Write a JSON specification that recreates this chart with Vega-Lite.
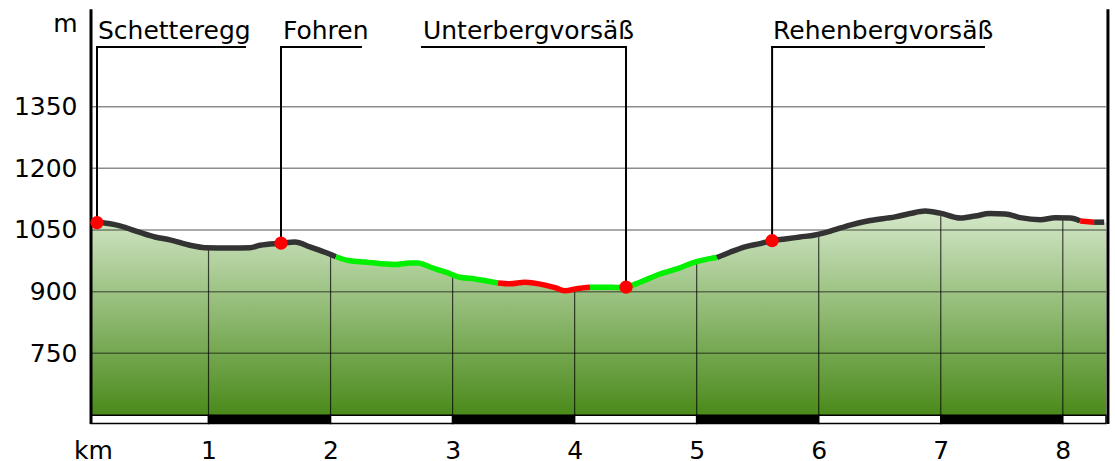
{
  "$schema": "https://vega.github.io/schema/vega-lite/v6.json",
  "width": 1015,
  "height": 414,
  "autosize": "none",
  "padding": {"left": 91, "top": 10, "right": 9, "bottom": 37},
  "background": "white",
  "config": {"view": {"stroke": null}, "font": "DejaVu Sans"},
  "datasets": {
    "prof": [
      {"km": 0.037, "elev": 1068, "seg": 1, "cat": "d", "dup": 0},
      {"km": 0.086, "elev": 1068, "seg": 1, "cat": "d", "dup": 0},
      {"km": 0.193, "elev": 1065, "seg": 1, "cat": "d", "dup": 0},
      {"km": 0.274, "elev": 1060, "seg": 1, "cat": "d", "dup": 0},
      {"km": 0.438, "elev": 1044, "seg": 1, "cat": "d", "dup": 0},
      {"km": 0.561, "elev": 1033, "seg": 1, "cat": "d", "dup": 0},
      {"km": 0.684, "elev": 1026, "seg": 1, "cat": "d", "dup": 0},
      {"km": 0.848, "elev": 1013, "seg": 1, "cat": "d", "dup": 0},
      {"km": 0.971, "elev": 1007, "seg": 1, "cat": "d", "dup": 0},
      {"km": 1.176, "elev": 1006, "seg": 1, "cat": "d", "dup": 0},
      {"km": 1.340, "elev": 1007, "seg": 1, "cat": "d", "dup": 0},
      {"km": 1.422, "elev": 1013, "seg": 1, "cat": "d", "dup": 0},
      {"km": 1.594, "elev": 1018, "seg": 1, "cat": "d", "dup": 0},
      {"km": 1.708, "elev": 1021, "seg": 1, "cat": "d", "dup": 0},
      {"km": 1.831, "elev": 1009, "seg": 1, "cat": "d", "dup": 0},
      {"km": 1.954, "elev": 996, "seg": 1, "cat": "d", "dup": 0},
      {"km": 2.044, "elev": 985, "seg": 1, "cat": "d", "dup": 0},
      {"km": 2.044, "elev": 985, "seg": 2, "cat": "g", "dup": 1},
      {"km": 2.159, "elev": 975, "seg": 2, "cat": "g", "dup": 0},
      {"km": 2.282, "elev": 972, "seg": 2, "cat": "g", "dup": 0},
      {"km": 2.528, "elev": 966, "seg": 2, "cat": "g", "dup": 0},
      {"km": 2.651, "elev": 970, "seg": 2, "cat": "g", "dup": 0},
      {"km": 2.717, "elev": 970, "seg": 2, "cat": "g", "dup": 0},
      {"km": 2.815, "elev": 960, "seg": 2, "cat": "g", "dup": 0},
      {"km": 2.938, "elev": 948, "seg": 2, "cat": "g", "dup": 0},
      {"km": 3.061, "elev": 935, "seg": 2, "cat": "g", "dup": 0},
      {"km": 3.184, "elev": 931, "seg": 2, "cat": "g", "dup": 0},
      {"km": 3.372, "elev": 921, "seg": 2, "cat": "g", "dup": 0},
      {"km": 3.372, "elev": 921, "seg": 3, "cat": "r", "dup": 1},
      {"km": 3.470, "elev": 919, "seg": 3, "cat": "r", "dup": 0},
      {"km": 3.593, "elev": 923, "seg": 3, "cat": "r", "dup": 0},
      {"km": 3.757, "elev": 916, "seg": 3, "cat": "r", "dup": 0},
      {"km": 3.847, "elev": 909, "seg": 3, "cat": "r", "dup": 0},
      {"km": 3.921, "elev": 902, "seg": 3, "cat": "r", "dup": 0},
      {"km": 4.027, "elev": 908, "seg": 3, "cat": "r", "dup": 0},
      {"km": 4.126, "elev": 911, "seg": 3, "cat": "r", "dup": 0},
      {"km": 4.126, "elev": 911, "seg": 4, "cat": "g", "dup": 1},
      {"km": 4.249, "elev": 911, "seg": 4, "cat": "g", "dup": 0},
      {"km": 4.372, "elev": 910, "seg": 4, "cat": "g", "dup": 0},
      {"km": 4.421, "elev": 911, "seg": 4, "cat": "g", "dup": 0},
      {"km": 4.535, "elev": 923, "seg": 4, "cat": "g", "dup": 0},
      {"km": 4.699, "elev": 943, "seg": 4, "cat": "g", "dup": 0},
      {"km": 4.863, "elev": 958, "seg": 4, "cat": "g", "dup": 0},
      {"km": 4.986, "elev": 972, "seg": 4, "cat": "g", "dup": 0},
      {"km": 5.068, "elev": 978, "seg": 4, "cat": "g", "dup": 0},
      {"km": 5.166, "elev": 983, "seg": 4, "cat": "g", "dup": 0},
      {"km": 5.166, "elev": 983, "seg": 5, "cat": "d", "dup": 1},
      {"km": 5.273, "elev": 996, "seg": 5, "cat": "d", "dup": 0},
      {"km": 5.396, "elev": 1009, "seg": 5, "cat": "d", "dup": 0},
      {"km": 5.519, "elev": 1017, "seg": 5, "cat": "d", "dup": 0},
      {"km": 5.618, "elev": 1024, "seg": 5, "cat": "d", "dup": 0},
      {"km": 5.724, "elev": 1028, "seg": 5, "cat": "d", "dup": 0},
      {"km": 5.847, "elev": 1033, "seg": 5, "cat": "d", "dup": 0},
      {"km": 5.970, "elev": 1038, "seg": 5, "cat": "d", "dup": 0},
      {"km": 6.093, "elev": 1047, "seg": 5, "cat": "d", "dup": 0},
      {"km": 6.257, "elev": 1062, "seg": 5, "cat": "d", "dup": 0},
      {"km": 6.421, "elev": 1073, "seg": 5, "cat": "d", "dup": 0},
      {"km": 6.626, "elev": 1082, "seg": 5, "cat": "d", "dup": 0},
      {"km": 6.749, "elev": 1090, "seg": 5, "cat": "d", "dup": 0},
      {"km": 6.872, "elev": 1096, "seg": 5, "cat": "d", "dup": 0},
      {"km": 6.995, "elev": 1091, "seg": 5, "cat": "d", "dup": 0},
      {"km": 7.159, "elev": 1079, "seg": 5, "cat": "d", "dup": 0},
      {"km": 7.282, "elev": 1084, "seg": 5, "cat": "d", "dup": 0},
      {"km": 7.405, "elev": 1090, "seg": 5, "cat": "d", "dup": 0},
      {"km": 7.528, "elev": 1089, "seg": 5, "cat": "d", "dup": 0},
      {"km": 7.651, "elev": 1080, "seg": 5, "cat": "d", "dup": 0},
      {"km": 7.815, "elev": 1075, "seg": 5, "cat": "d", "dup": 0},
      {"km": 7.938, "elev": 1080, "seg": 5, "cat": "d", "dup": 0},
      {"km": 8.061, "elev": 1079, "seg": 5, "cat": "d", "dup": 0},
      {"km": 8.143, "elev": 1072, "seg": 5, "cat": "d", "dup": 0},
      {"km": 8.143, "elev": 1072, "seg": 6, "cat": "r", "dup": 1},
      {"km": 8.257, "elev": 1069, "seg": 6, "cat": "r", "dup": 0},
      {"km": 8.257, "elev": 1069, "seg": 7, "cat": "d", "dup": 1},
      {"km": 8.339, "elev": 1069, "seg": 7, "cat": "d", "dup": 0},
      {"km": 8.354, "elev": 1069, "seg": 8, "cat": "n", "dup": 0}
    ],
    "ann": [
      {"name": "Schetteregg", "tx": 0.094, "hx1": 0.086, "hx2": 1.299, "vx": 0.086, "ve": 1068},
      {"name": "Fohren", "tx": 1.610, "hx1": 1.594, "hx2": 2.249, "vx": 1.594, "ve": 1018},
      {"name": "Unterbergvorsäß", "tx": 2.757, "hx1": 2.749, "hx2": 4.421, "vx": 4.421, "ve": 911},
      {"name": "Rehenbergvorsäß", "tx": 5.626, "hx1": 5.618, "hx2": 7.354, "vx": 5.618, "ve": 1024}
    ],
    "grid": [{"elev": 750}, {"elev": 900}, {"elev": 1050}, {"elev": 1200}, {"elev": 1350}],
    "kmlines": [
      {"km": 1, "elev": 1006}, {"km": 2, "elev": 990}, {"km": 3, "elev": 941},
      {"km": 4, "elev": 906}, {"km": 5, "elev": 973}, {"km": 6, "elev": 1040},
      {"km": 7, "elev": 1091}, {"km": 8, "elev": 1080}
    ],
    "bar": [
      {"a": 0.037, "b": 1, "c": "w"}, {"a": 1, "b": 2, "c": "k"}, {"a": 2, "b": 3, "c": "w"},
      {"a": 3, "b": 4, "c": "k"}, {"a": 4, "b": 5, "c": "w"}, {"a": 5, "b": 6, "c": "k"},
      {"a": 6, "b": 7, "c": "w"}, {"a": 7, "b": 8, "c": "k"}, {"a": 8, "b": 8.354, "c": "w"}
    ]
  },
  "layer": [
    {
      "data": {"name": "prof"},
      "transform": [{"filter": "datum.dup !== 1"}],
      "mark": {
        "type": "area",
        "interpolate": "monotone",
        "color": {
          "gradient": "linear", "x1": 0, "y1": 0, "x2": 0, "y2": 1,
          "stops": [{"offset": 0, "color": "#d5e8ca"}, {"offset": 1, "color": "#4a8a1a"}]
        }
      },
      "encoding": {
        "x": {
          "field": "km", "type": "quantitative", "title": null,
          "scale": {"domain": [0.037, 8.354], "nice": false, "zero": false},
          "axis": {
            "values": [0.053, 1, 2, 3, 4, 5, 6, 7, 8],
            "format": "d",
            "labelExpr": "datum.value < 0.5 ? 'km' : datum.label",
            "title": null, "domain": false, "ticks": false, "tickSize": 0, "grid": false,
            "labelFontSize": 25, "labelColor": "black", "labelPadding": 14,
            "labelFlush": false, "labelOverlap": false, "labelFont": "DejaVu Sans"
          }
        },
        "y": {
          "field": "elev", "type": "quantitative", "title": null,
          "scale": {"domain": [578.2, 1585], "nice": false, "zero": false},
          "axis": {
            "values": [750, 900, 1050, 1200, 1350, 1551],
            "format": "d",
            "labelExpr": "datum.value > 1500 ? 'm' : datum.label",
            "title": null, "domain": false, "ticks": false, "tickSize": 0, "grid": false,
            "labelFontSize": 25, "labelColor": "black", "labelPadding": 14,
            "labelOverlap": false, "labelFlush": false, "labelFont": "DejaVu Sans"
          }
        },
        "y2": {"datum": 600}
      }
    },
    {
      "data": {"name": "bar"},
      "mark": {"type": "rect", "stroke": "black", "strokeWidth": 1.5},
      "encoding": {
        "x": {"field": "a", "type": "quantitative", "title": null},
        "x2": {"field": "b"},
        "y": {"datum": 599.5, "title": null},
        "y2": {"datum": 579.5},
        "fill": {"field": "c", "type": "nominal", "scale": {"domain": ["w", "k"], "range": ["white", "black"]}, "legend": null}
      }
    },
    {
      "data": {"name": "grid"},
      "mark": {"type": "rule", "color": "black", "opacity": 0.45, "strokeWidth": 1.5},
      "encoding": {
        "y": {"field": "elev", "type": "quantitative", "title": null}
      }
    },
    {
      "data": {"name": "kmlines"},
      "mark": {"type": "rule", "color": "black", "opacity": 0.7, "strokeWidth": 1.2},
      "encoding": {
        "x": {"field": "km", "type": "quantitative", "title": null},
        "y": {"field": "elev", "type": "quantitative", "title": null},
        "y2": {"datum": 600}
      }
    },
    {
      "data": {"values": [{"side": "l", "km": 0.037}, {"side": "r", "km": 8.37}]},
      "mark": {"type": "rule", "color": "black", "strokeWidth": 3, "clip": false},
      "encoding": {
        "x": {"field": "km", "type": "quantitative", "title": null},
        "y": {"datum": 578.2, "title": null},
        "y2": {"datum": 1587}
      }
    },
    {
      "data": {"name": "ann"},
      "mark": {"type": "rule", "color": "black", "strokeWidth": 2, "strokeCap": "square"},
      "encoding": {
        "x": {"field": "vx", "type": "quantitative", "title": null},
        "y": {"field": "ve", "type": "quantitative", "title": null},
        "y2": {"datum": 1495}
      }
    },
    {
      "data": {"name": "ann"},
      "mark": {"type": "rule", "color": "black", "strokeWidth": 2, "strokeCap": "square"},
      "encoding": {
        "x": {"field": "hx1", "type": "quantitative", "title": null},
        "x2": {"field": "hx2"},
        "y": {"datum": 1495, "title": null}
      }
    },
    {
      "data": {"name": "prof"},
      "transform": [{"filter": "datum.seg < 8"}],
      "mark": {"type": "line", "interpolate": "monotone", "strokeWidth": 5.5, "strokeJoin": "round", "strokeCap": "butt"},
      "encoding": {
        "x": {"field": "km", "type": "quantitative", "title": null},
        "y": {"field": "elev", "type": "quantitative", "title": null},
        "detail": {"field": "seg", "type": "nominal"},
        "color": {"field": "cat", "type": "nominal", "scale": {"domain": ["d", "g", "r"], "range": ["#333333", "#00f000", "#ff0000"]}, "legend": null}
      }
    },
    {
      "data": {"name": "ann"},
      "mark": {"type": "point", "filled": true, "color": "#ff0000", "opacity": 1, "size": 175},
      "encoding": {
        "x": {"field": "vx", "type": "quantitative", "title": null},
        "y": {"field": "ve", "type": "quantitative", "title": null}
      }
    },
    {
      "data": {"name": "ann"},
      "mark": {"type": "text", "align": "left", "baseline": "alphabetic", "fontSize": 25, "font": "DejaVu Sans", "color": "black"},
      "encoding": {
        "x": {"field": "tx", "type": "quantitative", "title": null},
        "y": {"datum": 1514.5, "title": null},
        "text": {"field": "name"}
      }
    }
  ]
}
